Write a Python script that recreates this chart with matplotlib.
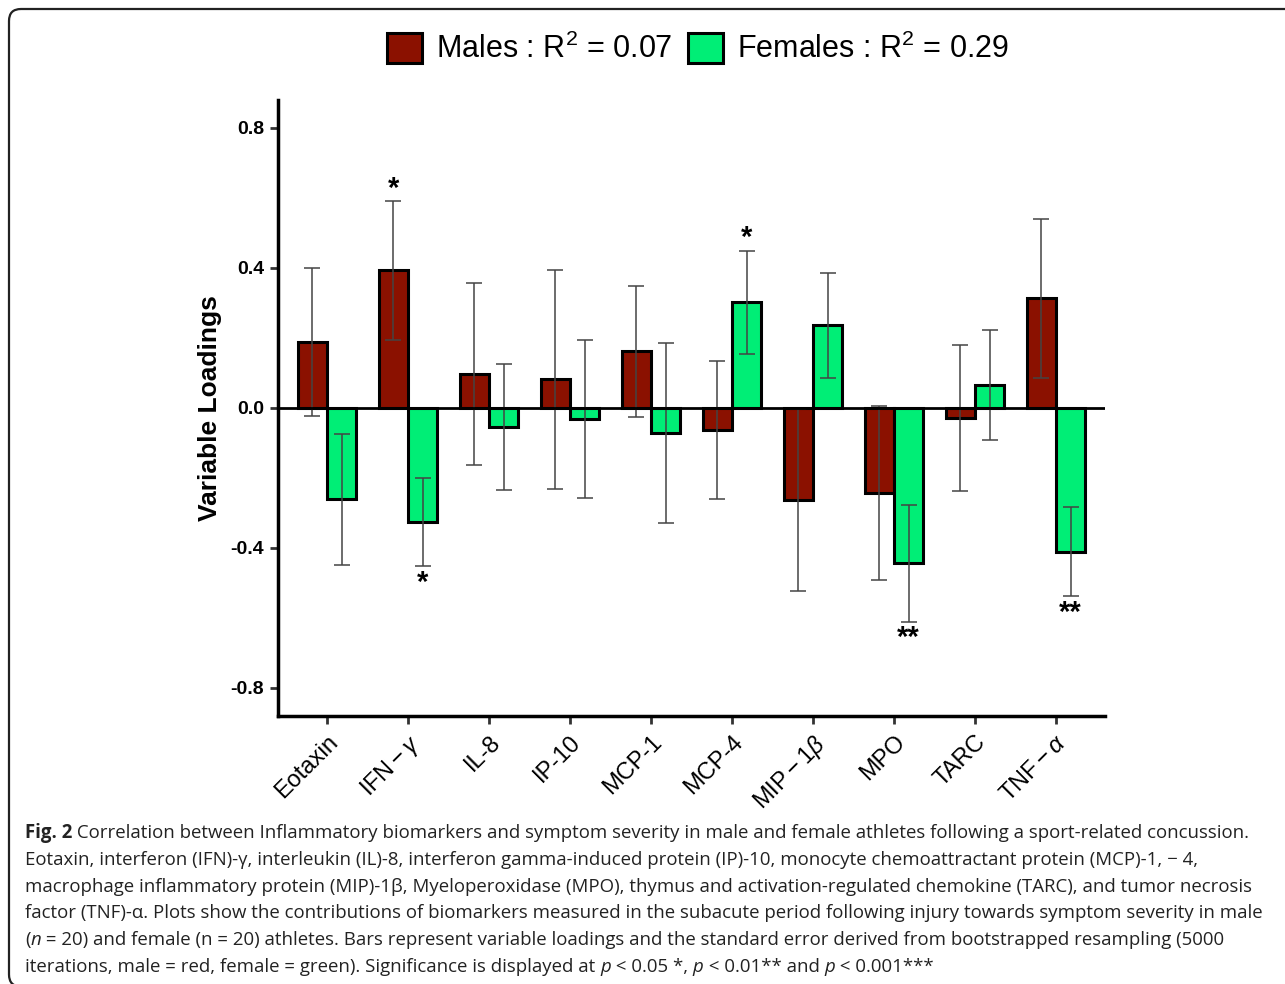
import matplotlib
matplotlib.use("Agg")
import matplotlib.pyplot as plt
import numpy as np
from matplotlib.patches import Patch, FancyBboxPatch

plt.rcParams['font.family'] = ['Liberation Sans', 'DejaVu Sans']
plt.rcParams['axes.unicode_minus'] = False
plt.rcParams['mathtext.fontset'] = 'custom'
plt.rcParams['mathtext.rm'] = 'Liberation Sans'
plt.rcParams['mathtext.it'] = 'Liberation Sans:italic'
plt.rcParams['mathtext.bf'] = 'Liberation Sans:bold'

# ---------------- data ----------------
categories = ['Eotaxin', r'$\mathregular{IFN}-\gamma$', 'IL-8', 'IP-10', 'MCP-1', 'MCP-4',
              r'$\mathregular{MIP}-\mathregular{1}\beta$', 'MPO', 'TARC', r'$\mathregular{TNF}-\alpha$']
male_values = [0.188, 0.393, 0.097, 0.082, 0.162, -0.063, -0.262, -0.243, -0.028, 0.313]
male_se = [0.211, 0.199, 0.261, 0.312, 0.188, 0.197, 0.260, 0.248, 0.208, 0.228]
female_values = [-0.261, -0.326, -0.053, -0.032, -0.072, 0.302, 0.237, -0.444, 0.067, -0.410]
female_se = [0.188, 0.126, 0.180, 0.226, 0.257, 0.148, 0.150, 0.166, 0.157, 0.128]
male_sig = ['', '*', '', '', '', '', '', '', '', '']
female_sig = ['', '*', '', '', '', '*', '', '**', '', '**']
legend_labels = [r'Males : R$^{\mathregular{2}}$ = 0.07', r'Females : R$^{\mathregular{2}}$ = 0.29']
yticks = [-0.8, -0.4, 0.0, 0.4, 0.8]
ylabel = 'Variable Loadings'
caption_lines = [
    [("Fig. 2", "bold"), (" Correlation between Inflammatory biomarkers and symptom severity in male and female athletes following a sport-related concussion.", "normal")],
    [("Eotaxin, interferon (IFN)-\u03b3, interleukin (IL)-8, interferon gamma-induced protein (IP)-10, monocyte chemoattractant protein (MCP)-1, \u2212 4,", "normal")],
    [("macrophage inflammatory protein (MIP)-1\u03b2, Myeloperoxidase (MPO), thymus and activation-regulated chemokine (TARC), and tumor necrosis", "normal")],
    [("factor (TNF)-\u03b1. Plots show the contributions of biomarkers measured in the subacute period following injury towards symptom severity in male", "normal")],
    [("(", "normal"), ("n", "italic"), (" = 20) and female (n = 20) athletes. Bars represent variable loadings and the standard error derived from bootstrapped resampling (5000", "normal")],
    [("iterations, male = red, female = green). Significance is displayed at ", "normal"), ("p", "italic"), (" < 0.05 *, ", "normal"),
     ("p", "italic"), (" < 0.01** and ", "normal"), ("p", "italic"), (" < 0.001***", "normal")],
]

male_color = '#8B1100'
female_color = '#00EE76'

W, H = 1285, 984
fig = plt.figure(figsize=(W / 100, H / 100), dpi=100)
fig.patch.set_facecolor('white')

# rounded frame around the figure (right and bottom edges fall outside the image)
frame = FancyBboxPatch((0.09, -0.025), 14.0, 9.775, boxstyle="round,pad=0,rounding_size=0.12",
                       transform=fig.dpi_scale_trans, facecolor='none', edgecolor='#222222',
                       linewidth=1.6, clip_on=False)
fig.add_artist(frame)

ax = fig.add_axes([278 / W, 1 - 716 / H, (1105 - 278) / W, (716 - 100) / H])
x = np.arange(len(categories))
bw = 0.36

ax.bar(x - bw / 2, male_values, bw, color=male_color, edgecolor='black', linewidth=2.2, zorder=2)
ax.bar(x + bw / 2, female_values, bw, color=female_color, edgecolor='black', linewidth=2.2, zorder=2)
ax.errorbar(x - bw / 2, male_values, yerr=male_se, fmt='none', ecolor='#444444', elinewidth=1.1,
            capsize=5.8, capthick=1.1, zorder=3)
ax.errorbar(x + bw / 2, female_values, yerr=female_se, fmt='none', ecolor='#444444', elinewidth=1.1,
            capsize=5.8, capthick=1.1, zorder=3)
ax.axhline(0, color='black', linewidth=2.0, zorder=4)

def put_sig(xs, vals, ses, sigs):
    for xi, v, s, g in zip(xs, vals, ses, sigs):
        if not g:
            continue
        if v >= 0:
            ax.annotate(g, (xi, v + s), xytext=(0, 3), textcoords='offset points',
                        ha='center', va='baseline', fontsize=21, fontweight='bold', zorder=5)
        else:
            ax.annotate(g, (xi, v - s), xytext=(0, -17.5), textcoords='offset points',
                        ha='center', va='baseline', fontsize=21, fontweight='bold', zorder=5)

put_sig(x - bw / 2, male_values, male_se, male_sig)
put_sig(x + bw / 2, female_values, female_se, female_sig)

ax.set_xlim(-0.605, 9.605)
ax.set_ylim(-0.88, 0.88)
ax.set_yticks(yticks)
ax.set_yticklabels([f'{t:.1f}' for t in yticks], fontsize=14, fontweight='bold')
ax.set_xticks(x)
ax.set_xticklabels(categories, fontsize=17, rotation=45, ha='right', va='top', rotation_mode='anchor')
ax.tick_params(axis='both', length=6, width=2.0, direction='out', color='#333333')
ax.tick_params(axis='y', pad=4)
ax.tick_params(axis='x', pad=5)
for side in ['top', 'right']:
    ax.spines[side].set_visible(False)
for side in ['left', 'bottom']:
    ax.spines[side].set_linewidth(2.5)
ax.set_ylabel(ylabel, fontsize=19, fontweight='bold')
ax.yaxis.set_label_coords((222 - 278) / (1105 - 278), 0.5)

# legend
handles = [Patch(facecolor=male_color, edgecolor='black', linewidth=2.2),
           Patch(facecolor=female_color, edgecolor='black', linewidth=2.2)]
fig.legend(handles, legend_labels, loc='center', bbox_to_anchor=(698 / W, 1 - 49 / H), ncol=2,
           frameon=False, fontsize=22, handlelength=1.15, handleheight=1.15, handletextpad=0.45,
           columnspacing=0.5, borderaxespad=0)

# caption with rich text
fig.canvas.draw()
renderer = fig.canvas.get_renderer()
cap_family = ['Open Sans', 'DejaVu Sans']

def line_width(segs, fs):
    total = 0
    for txt, st in segs:
        t = fig.text(0, 0, txt, fontsize=fs, family=cap_family,
                     fontweight='bold' if st == 'bold' else 'normal',
                     fontstyle='italic' if st == 'italic' else 'normal')
        total += t.get_window_extent(renderer).width
        t.remove()
    return total

# fit font size so that the first line spans the reference width
base_fs = 13.0
w0 = line_width(caption_lines[0], base_fs)
cap_fs = base_fs * (1240 - 25) / w0

baselines = [838, 865, 892, 918, 945, 972]
for segs, yb in zip(caption_lines, baselines):
    xpos = 25
    for txt, st in segs:
        t = fig.text(xpos / W, 1 - yb / H, txt, fontsize=cap_fs, family=cap_family,
                     fontweight='bold' if st == 'bold' else 'normal',
                     fontstyle='italic' if st == 'italic' else 'normal',
                     ha='left', va='baseline', color='#222222')
        xpos += t.get_window_extent(renderer).width

fig.savefig('out.png', dpi=100, facecolor='white')
